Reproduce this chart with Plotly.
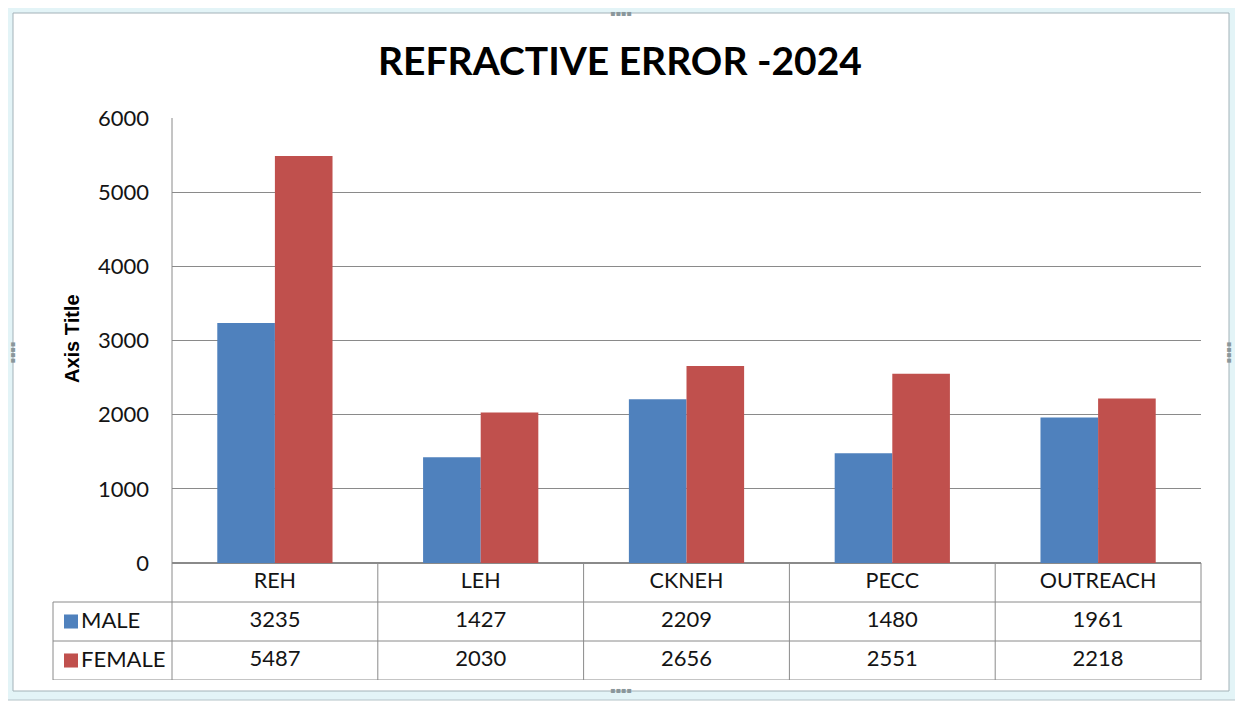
import plotly.graph_objects as go

# data
categories = ["REH", "LEH", "CKNEH", "PECC", "OUTREACH"]
male = [3235, 1427, 2209, 1480, 1961]
female = [5487, 2030, 2656, 2551, 2218]
series_names = ["MALE", "FEMALE"]
colors = ["#4F81BD", "#C0504D"]

# page has an 8px body margin, so the figure is made a bit smaller and shifted
OFF = 8
W, H = 1243 - OFF, 703 - OFF


def px(x):
    return (x - OFF) / W


def py(y):
    return 1 - (y - OFF) / H


x_dom = [px(172), px(1201)]
y_dom = [py(563), py(118)]
t_dom = [py(680), py(563)]
grid = "#8A8A8A"
font = "Lato, 'Open Sans', sans-serif"
txt = "#141414"

traces = []
for name, vals, col in zip(series_names, [male, female], colors):
    traces.append(go.Bar(x=categories, y=vals, name=name, marker_color=col,
                         marker_line_width=0, showlegend=False))

# data table text (rows on the table axis y2: 2.5 = categories, 1.5 = male, 0.5 = female)
traces.append(go.Scatter(x=categories, y=[2.5] * len(categories), yaxis="y2",
                         mode="text", text=categories, cliponaxis=False,
                         textfont=dict(size=21.5, color=txt), showlegend=False))
for row, vals in zip([1.5, 0.5], [male, female]):
    traces.append(go.Scatter(x=categories, y=[row] * len(vals), yaxis="y2",
                             mode="text", text=[str(v) for v in vals], cliponaxis=False,
                             textfont=dict(size=22, color=txt), showlegend=False))

fig = go.Figure(data=traces)

shapes = []
# frame
shapes.append(dict(type="rect", xref="paper", yref="paper", x0=px(3), x1=px(1240),
                   y0=py(700), y1=py(3), fillcolor="#E3F4F7", line=dict(color="#B4C3C8", width=1),
                   layer="below"))
shapes.append(dict(type="rect", xref="paper", yref="paper", x0=px(13), x1=px(1229),
                   y0=py(691), y1=py(13), fillcolor="white", line=dict(color="#A3B2B8", width=1),
                   layer="below"))

# table lines
n = len(categories)
left_col = px(53)
for r in [0, 1, 2]:
    shapes.append(dict(type="line", xref="paper", yref="y2", x0=left_col, x1=x_dom[1],
                       y0=r, y1=r, line=dict(color=grid, width=1)))
shapes.append(dict(type="line", xref="paper", yref="y2", x0=left_col, x1=left_col,
                   y0=0, y1=2, line=dict(color=grid, width=1)))
for k in range(n + 1):
    xp = x_dom[0] + k * (x_dom[1] - x_dom[0]) / n
    shapes.append(dict(type="line", xref="paper", yref="y2", x0=xp, x1=xp,
                       y0=0, y1=3, line=dict(color=grid, width=1)))
# left axis line
shapes.append(dict(type="line", xref="paper", yref="paper", x0=x_dom[0], x1=x_dom[0],
                   y0=y_dom[0], y1=y_dom[1], line=dict(color=grid, width=1)))

annotations = []
for i, (name, col) in enumerate(zip(series_names, colors)):
    row = 1.5 - i
    shapes.append(dict(type="rect", xref="paper", yref="y2", x0=px(64), x1=px(78),
                       y0=row - 0.18, y1=row + 0.18, fillcolor=col, line_width=0))
    annotations.append(dict(text=name, xref="paper", yref="y2", x=px(79), y=row + 0.05,
                            xanchor="left", yanchor="middle", showarrow=False,
                            font=dict(size=22, color=txt)))

annotations.append(dict(text="<b>Axis Title</b>", xref="paper", yref="paper",
                        x=px(59), y=py(339), textangle=-90, showarrow=False,
                        font=dict(family="'Liberation Sans', Arial, sans-serif", size=20,
                                  color="black")))

# little resize handles on the frame
for hx, hy, ang in [(621, 7, 0), (621, 697, 0), (7, 352, 90), (1236, 352, 90)]:
    annotations.append(dict(text="▪▪▪▪", xref="paper", yref="paper", x=px(hx), y=py(hy),
                            textangle=ang, showarrow=False,
                            font=dict(family="'DejaVu Sans'", size=8, color="#8A979B")))

fig.update_layout(
    width=W, height=H,
    margin=dict(l=0, r=0, t=0, b=0, pad=0, autoexpand=False),
    paper_bgcolor="white", plot_bgcolor="white",
    font=dict(family=font, color=txt),
    title=dict(text="<b>REFRACTIVE ERROR -2024</b>", x=px(620), y=py(61),
               xanchor="center", yanchor="middle",
               font=dict(size=39, color="black", family=font)),
    barmode="group", bargap=0.44, bargroupgap=0,
    xaxis=dict(domain=x_dom, showticklabels=False, showgrid=False, zeroline=False,
               showline=False, ticks="", fixedrange=True),
    yaxis=dict(domain=y_dom, range=[0, 6000], dtick=1000, showgrid=True, gridcolor=grid,
               gridwidth=1, zeroline=True, zerolinecolor=grid, showline=False, ticks="",
               ticklabelstandoff=22, tickfont=dict(size=22, color=txt)),
    yaxis2=dict(domain=t_dom, range=[0, 3], anchor="x", visible=False),
    shapes=shapes,
    annotations=annotations,
)

fig.write_html("out.html")
